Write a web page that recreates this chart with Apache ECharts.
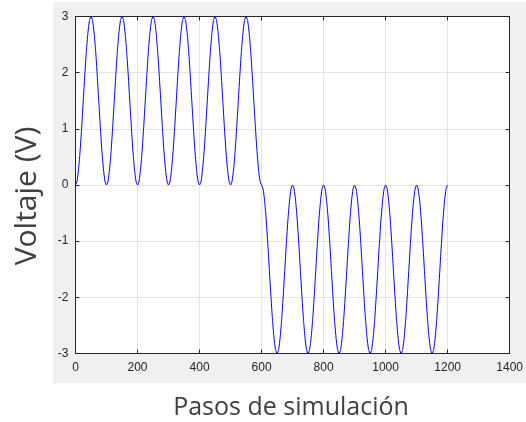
<!DOCTYPE html>
<html>
<head>
<meta charset="utf-8">
<script src="https://cdn.jsdelivr.net/npm/echarts@6/dist/echarts.min.js"></script>
<style>
  html, body { margin: 0; padding: 0; background: #ffffff; }
  #chart { width: 526px; height: 422px; }
</style>
</head>
<body>
<div id="chart"></div>
<script>
// Simulation steps sampled every 5 steps, from 0 to 1200
const stepSize = 5;
const stepStart = 0;

// Voltage (V) at each sampled step
const voltage = [
  // 0 .. 595
  0, 0.07, 0.29, 0.62, 1.04, 1.5, 1.96, 2.38, 2.71, 2.93, 3, 2.93, 2.71, 2.38, 1.96, 1.5, 1.04, 0.62, 0.29, 0.07,
  0, 0.07, 0.29, 0.62, 1.04, 1.5, 1.96, 2.38, 2.71, 2.93, 3, 2.93, 2.71, 2.38, 1.96, 1.5, 1.04, 0.62, 0.29, 0.07,
  0, 0.07, 0.29, 0.62, 1.04, 1.5, 1.96, 2.38, 2.71, 2.93, 3, 2.93, 2.71, 2.38, 1.96, 1.5, 1.04, 0.62, 0.29, 0.07,
  0, 0.07, 0.29, 0.62, 1.04, 1.5, 1.96, 2.38, 2.71, 2.93, 3, 2.93, 2.71, 2.38, 1.96, 1.5, 1.04, 0.62, 0.29, 0.07,
  0, 0.07, 0.29, 0.62, 1.04, 1.5, 1.96, 2.38, 2.71, 2.93, 3, 2.93, 2.71, 2.38, 1.96, 1.5, 1.04, 0.62, 0.29, 0.07,
  0, 0.07, 0.29, 0.62, 1.04, 1.5, 1.96, 2.38, 2.71, 2.93, 3, 2.93, 2.71, 2.38, 1.96, 1.5, 1.04, 0.62, 0.29, 0.07,
  // 600
  0,
  // 605 .. 1200
  -0.07, -0.29, -0.62, -1.04, -1.5, -1.96, -2.38, -2.71, -2.93, -3, -2.93, -2.71, -2.38, -1.96, -1.5, -1.04, -0.62, -0.29, -0.07, 0,
  -0.07, -0.29, -0.62, -1.04, -1.5, -1.96, -2.38, -2.71, -2.93, -3, -2.93, -2.71, -2.38, -1.96, -1.5, -1.04, -0.62, -0.29, -0.07, 0,
  -0.07, -0.29, -0.62, -1.04, -1.5, -1.96, -2.38, -2.71, -2.93, -3, -2.93, -2.71, -2.38, -1.96, -1.5, -1.04, -0.62, -0.29, -0.07, 0,
  -0.07, -0.29, -0.62, -1.04, -1.5, -1.96, -2.38, -2.71, -2.93, -3, -2.93, -2.71, -2.38, -1.96, -1.5, -1.04, -0.62, -0.29, -0.07, 0,
  -0.07, -0.29, -0.62, -1.04, -1.5, -1.96, -2.38, -2.71, -2.93, -3, -2.93, -2.71, -2.38, -1.96, -1.5, -1.04, -0.62, -0.29, -0.07, 0,
  -0.07, -0.29, -0.62, -1.04, -1.5, -1.96, -2.38, -2.71, -2.93, -3, -2.93, -2.71, -2.38, -1.96, -1.5, -1.04, -0.62, -0.29, -0.07, 0
];

// Axis ranges and tick spacing
const xRange = [0, 1400];
const xTickStep = 200;
const yRange = [-3, 3];
const yTickStep = 1;

const xTitle = 'Pasos de simulación';
const yTitle = 'Voltaje (V)';

const points = voltage.map((v, i) => [stepStart + i * stepSize, v]);

const axisColor = '#262626';
const gridColor = '#e4e4e4';
const tickFont = { fontFamily: 'Liberation Sans', fontSize: 12, color: axisColor };
const plainNumber = (v) => String(v);

const chart = echarts.init(document.getElementById('chart'), null, { renderer: 'canvas' });

chart.setOption({
  backgroundColor: '#ffffff',
  animation: false,
  graphic: [
    {
      type: 'rect', z: -10, silent: true,
      shape: { x: 53, y: 2, width: 473, height: 381 },
      style: { fill: '#f0f0f0' }
    },
    {
      type: 'text', silent: true,
      x: 291, y: 408,
      style: {
        text: xTitle, fill: '#404040',
        font: '25px "Open Sans"', align: 'center', verticalAlign: 'middle'
      }
    },
    {
      type: 'text', silent: true,
      x: 27, y: 196, rotation: Math.PI / 2,
      style: {
        text: yTitle, fill: '#404040',
        font: '30px "Open Sans"', align: 'center', verticalAlign: 'middle'
      }
    }
  ],
  grid: {
    left: 75.5, right: 15.5, top: 16.5, bottom: 68.5,
    show: true, backgroundColor: '#ffffff', borderWidth: 0
  },
  xAxis: [
    {
      type: 'value', min: xRange[0], max: xRange[1], interval: xTickStep,
      position: 'bottom',
      axisLine: { show: true, onZero: false, lineStyle: { color: axisColor, width: 1 } },
      axisTick: { show: true, inside: true, length: 4, lineStyle: { color: axisColor } },
      axisLabel: Object.assign({ margin: 8, formatter: plainNumber }, tickFont),
      splitLine: { show: true, lineStyle: { color: gridColor, width: 1 } }
    },
    {
      type: 'value', min: xRange[0], max: xRange[1], interval: xTickStep,
      position: 'top',
      axisLine: { show: true, onZero: false, lineStyle: { color: axisColor, width: 1 } },
      axisTick: { show: true, inside: true, length: 4, lineStyle: { color: axisColor } },
      axisLabel: { show: false },
      splitLine: { show: false }
    }
  ],
  yAxis: [
    {
      type: 'value', min: yRange[0], max: yRange[1], interval: yTickStep,
      position: 'left',
      axisLine: { show: true, onZero: false, lineStyle: { color: axisColor, width: 1 } },
      axisTick: { show: true, inside: true, length: 4, lineStyle: { color: axisColor } },
      axisLabel: Object.assign({ margin: 7, formatter: plainNumber }, tickFont),
      splitLine: { show: true, lineStyle: { color: gridColor, width: 1 } }
    },
    {
      type: 'value', min: yRange[0], max: yRange[1], interval: yTickStep,
      position: 'right',
      axisLine: { show: true, onZero: false, lineStyle: { color: axisColor, width: 1 } },
      axisTick: { show: true, inside: true, length: 4, lineStyle: { color: axisColor } },
      axisLabel: { show: false },
      splitLine: { show: false }
    }
  ],
  series: [
    {
      type: 'line',
      xAxisIndex: 0, yAxisIndex: 0,
      data: points,
      showSymbol: false,
      smooth: 0.2,
      lineStyle: { color: '#0000ff', width: 1 },
      clip: true,
      z: 5
    }
  ]
});
</script>
</body>
</html>
